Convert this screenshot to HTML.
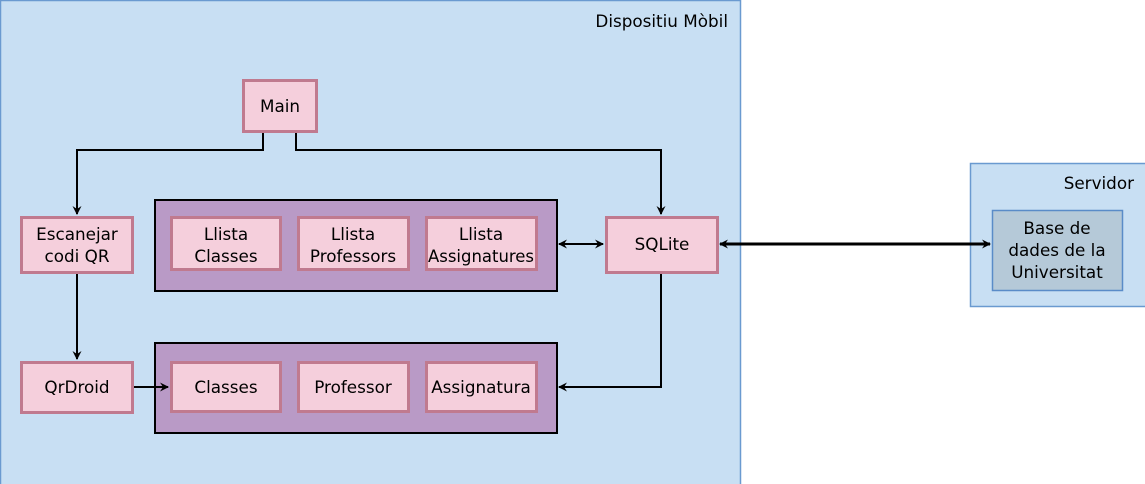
<!DOCTYPE html>
<html><head><meta charset="utf-8"><style>
html,body{margin:0;padding:0;background:#fff;}
svg{display:block;}
text{font-family:"DejaVu Sans","Liberation Sans",sans-serif;font-size:16.8px;fill:#000;text-anchor:middle;}
</style></head><body>
<svg width="1145" height="484" viewBox="0 0 1145 484" xmlns="http://www.w3.org/2000/svg">
<defs>
<marker id="a" markerWidth="9" markerHeight="9" refX="8" refY="4.5" orient="auto-start-reverse" markerUnits="userSpaceOnUse"><path d="M0,0 L9,4.5 L0,9 L3,4.5 Z" fill="#000"/></marker>
</defs>
<rect x="0.5" y="0.5" width="740" height="490" fill="#c8dff3" stroke="#6a9ad0" stroke-width="1.5"/>
<text x="728" y="27" style="text-anchor:end">Dispositiu Mòbil</text>
<rect x="970.5" y="163.5" width="180" height="143" fill="#c8dff3" stroke="#6a9ad0" stroke-width="1.5"/>
<text x="1134" y="189" style="text-anchor:end">Servidor</text>
<rect x="992.5" y="210.5" width="130" height="80" fill="#b5c9d8" stroke="#5a8cc8" stroke-width="1.5"/>
<text x="1057" y="234">Base de</text><text x="1057" y="256">dades de la</text><text x="1057" y="278">Universitat</text>

<g fill="#b99ac6" stroke="#000" stroke-width="2">
<rect x="155" y="200" width="402" height="91"/>
<rect x="155" y="343" width="402" height="90"/>
</g>

<g fill="none" stroke="#000" stroke-width="2">
<path d="M263,133 V150 H77 V214" marker-end="url(#a)"/>
<path d="M296,133 V150 H661 V214" marker-end="url(#a)"/>
<path d="M77,274 V359" marker-end="url(#a)"/>
<path d="M134,387 H168" marker-end="url(#a)"/>
<path d="M559,244 H603" marker-start="url(#a)" marker-end="url(#a)"/>
<path d="M661,274 V387 H559" marker-end="url(#a)"/>
<path d="M720,244 H990" stroke-width="3" marker-start="url(#a)" marker-end="url(#a)"/>
</g>

<g fill="#f5cfdc" stroke="#c07a8f" stroke-width="3">
<rect x="243.5" y="80.5" width="73" height="51"/>
<rect x="21.5" y="217.5" width="111" height="55"/>
<rect x="21.5" y="362.5" width="111" height="50"/>
<rect x="606.5" y="217.5" width="111" height="55"/>
<rect x="171.5" y="217.5" width="109" height="52"/>
<rect x="298.5" y="217.5" width="110" height="52"/>
<rect x="426.5" y="217.5" width="110" height="52"/>
<rect x="171.5" y="362.5" width="109" height="49"/>
<rect x="298.5" y="362.5" width="110" height="49"/>
<rect x="426.5" y="362.5" width="110" height="49"/>
</g>
<text x="280" y="112">Main</text>
<text x="77" y="240">Escanejar</text><text x="77" y="262">codi QR</text>
<text x="77" y="393">QrDroid</text>
<text x="662" y="250">SQLite</text>
<text x="226" y="240">Llista</text><text x="226" y="262">Classes</text>
<text x="353" y="240">Llista</text><text x="353" y="262">Professors</text>
<text x="481" y="240">Llista</text><text x="481" y="262" textLength="106" lengthAdjust="spacingAndGlyphs">Assignatures</text>
<text x="226" y="393">Classes</text>
<text x="353" y="393">Professor</text>
<text x="481" y="393">Assignatura</text>
</svg>
</body></html>
